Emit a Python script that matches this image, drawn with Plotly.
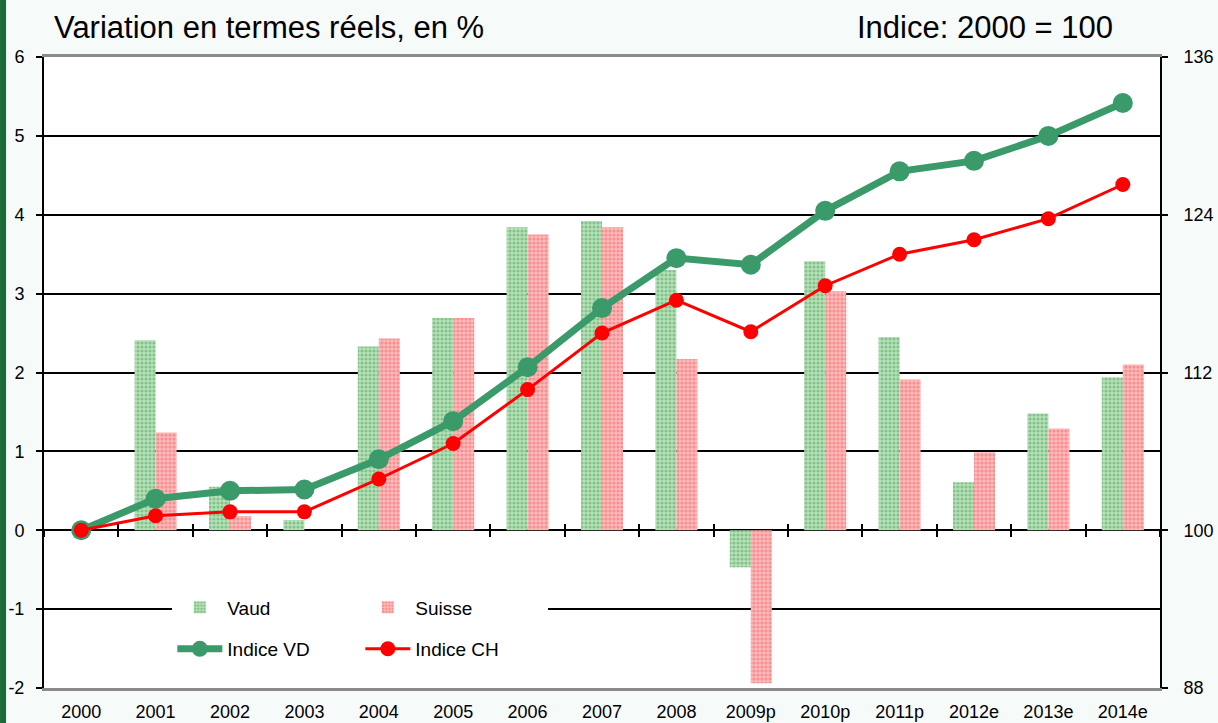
import plotly.graph_objects as go

years = ["2000", "2001", "2002", "2003", "2004", "2005", "2006", "2007",
         "2008", "2009p", "2010p", "2011p", "2012e", "2013e", "2014e"]
vaud = [0.0, 2.41, 0.55, 0.13, 2.33, 2.69, 3.84, 3.92, 3.30, -0.47, 3.41, 2.45, 0.61, 1.48, 1.94]
suisse = [0.0, 1.24, 0.18, 0.0, 2.43, 2.69, 3.75, 3.84, 2.17, -1.94, 3.03, 1.91, 0.99, 1.29, 2.10]
indice_vd = [100.0, 102.4, 103.0, 103.1, 105.4, 108.3, 112.4, 116.9, 120.7, 120.2, 124.3, 127.3, 128.1, 130.0, 132.5]
indice_ch = [100.0, 101.1, 101.4, 101.4, 103.9, 106.6, 110.7, 115.0, 117.5, 115.1, 118.6, 121.0, 122.1, 123.7, 126.3]
left_ticks = [-2, -1, 0, 1, 2, 3, 4, 5, 6]
left_labels = ["-2", "-1", "0", "1", "2", "3", "4", "5", "6"]
right_ticks = [88, 100, 112, 124, 136]

GREEN = "#3a9a6a"
FONT = "Liberation Sans, Arial, sans-serif"
x_range = [-0.5, len(years) - 0.5]

fig = go.Figure()

fig.add_trace(go.Bar(
    x=years, y=vaud, name="Vaud", legend="legend",
    marker=dict(color="#a8d8ac", line=dict(width=0),
                pattern=dict(shape=".", fgcolor="#4aa657", bgcolor="#b8e0ba", size=4, solidity=0.5)),
))
fig.add_trace(go.Bar(
    x=years, y=suisse, name="Suisse", legend="legend",
    marker=dict(color="#faa6a6", line=dict(width=0),
                pattern=dict(shape=".", fgcolor="#f06464", bgcolor="#fcbaba", size=4, solidity=0.5)),
))
fig.add_trace(go.Scatter(
    x=years, y=indice_vd, name="Indice VD", yaxis="y2", legend="legend2",
    mode="lines+markers", line=dict(color=GREEN, width=7),
    marker=dict(color=GREEN, size=20),
))
fig.add_trace(go.Scatter(
    x=years, y=indice_ch, name="Indice CH", yaxis="y2", legend="legend2",
    mode="lines+markers", line=dict(color="#ff0000", width=3),
    marker=dict(color="#ff0000", size=15),
))
# invisible helper traces carrying the zero-line tick axes
for ax in ("x2", "x3"):
    fig.add_trace(go.Scatter(x=years, y=vaud, xaxis=ax, yaxis="y", mode="markers",
                             marker=dict(opacity=0), showlegend=False, hoverinfo="skip"))

tick_axis = dict(overlaying="x", anchor="free", position=0.25, type="category", range=x_range,
                 showticklabels=False, tickson="boundaries", ticklen=6, tickcolor="black",
                 tickwidth=1.5, showgrid=False, showline=False, zeroline=False, automargin=False)

fig.update_layout(
    width=1218, height=723,
    margin=dict(l=44, r=58, t=57, b=35, autoexpand=False),
    paper_bgcolor="#f6faf9", plot_bgcolor="white",
    font=dict(family=FONT, size=18, color="black"),
    barmode="group", bargap=0.435, bargroupgap=0,
    xaxis=dict(type="category", range=x_range, showline=True, mirror=True, linecolor="#8a8a8a",
               linewidth=3, ticks="", showgrid=False, tickfont=dict(size=18), ticklabelstandoff=5,
               automargin=False),
    xaxis2=dict(tick_axis, ticks="outside"),
    xaxis3=dict(tick_axis, ticks="inside"),
    yaxis=dict(range=[-2, 6], tickvals=left_ticks, ticktext=left_labels,
               showgrid=True, gridcolor="black", gridwidth=1.5,
               zeroline=True, zerolinecolor="black", zerolinewidth=2,
               showline=True, linecolor="black", linewidth=2, ticklabelstandoff=8,
               ticks="outside", ticklen=6, tickcolor="black", tickwidth=1.5, automargin=False),
    yaxis2=dict(range=[88, 136], tickvals=right_ticks, overlaying="y", side="right",
                showgrid=False, zeroline=False, showline=True, linecolor="black", linewidth=2,
                ticklabelstandoff=12, automargin=False,
                ticks="outside", ticklen=6, tickcolor="black", tickwidth=1.5),
    legend=dict(orientation="h", x=0.115, y=0.158, xanchor="left", yanchor="top",
                bgcolor="white", font=dict(size=19), entrywidth=128, entrywidthmode="pixels",
                itemwidth=45, traceorder="normal"),
    legend2=dict(orientation="h", x=0.115, y=0.092, xanchor="left", yanchor="top",
                 bgcolor="white", font=dict(size=19), entrywidth=128, entrywidthmode="pixels",
                 itemwidth=45, traceorder="normal"),
    shapes=[dict(type="rect", xref="paper", yref="paper", x0=-0.0394, x1=-0.0340, y0=-0.06, y1=1.1,
                 fillcolor="#1b6b38", line=dict(width=0), layer="above")],
    annotations=[
        dict(text="Variation en termes réels, en %", xref="paper", yref="paper",
             x=0.0072, y=1.047, xanchor="left", yanchor="middle", showarrow=False,
             font=dict(size=31, family=FONT)),
        dict(text="Indice: 2000 = 100", xref="paper", yref="paper",
             x=0.9597, y=1.047, xanchor="right", yanchor="middle", showarrow=False,
             font=dict(size=31, family=FONT)),
    ],
)

fig.write_html("out.html", config={"displayModeBar": False},
               post_script="document.body.style.margin='0';")
